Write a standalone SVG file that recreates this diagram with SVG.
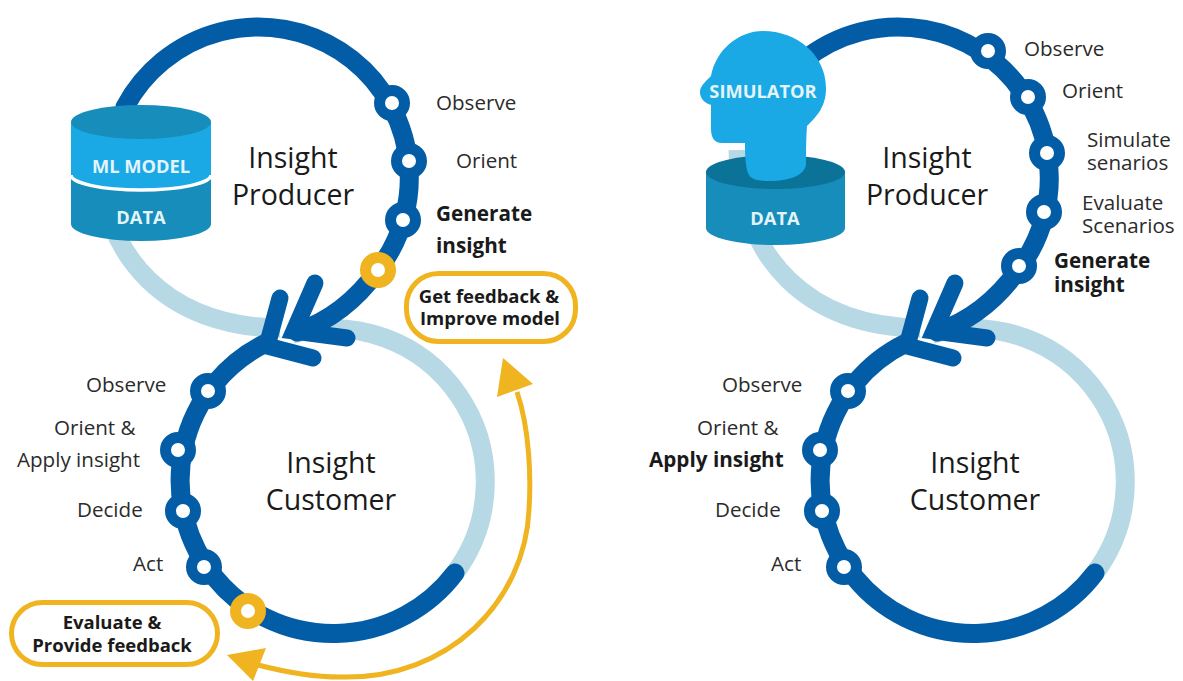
<svg xmlns="http://www.w3.org/2000/svg" width="1183" height="681" viewBox="0 0 1183 681">
<style>
text{font-family:"Open Sans","Noto Sans","Liberation Sans",sans-serif;fill:#2b2b2b;font-size:20.600px}
.t{font-size:28.500px;fill:#1a1a1a;text-anchor:middle}
.b{font-weight:700;font-size:20.700px;fill:#1a1a1a}
.w{font-weight:700;fill:#e4f4fb;text-anchor:middle;font-size:18.300px}
.e{font-weight:700;font-size:18.500px;fill:#1a1a1a;text-anchor:middle}
.blue{fill:none;stroke:#035da6;stroke-width:19;stroke-linecap:round}
.barb{fill:none;stroke:#035da6;stroke-width:17;stroke-linecap:round;stroke-linejoin:miter}
.light{fill:none;stroke:#b7d8e5;stroke-width:19}
.n{fill:#fff;stroke:#035da6;stroke-width:11}
.g{fill:#fff;stroke:#efb41f;stroke-width:11}
.box{fill:#fff;stroke:#efb41f;stroke-width:5}
.gl{fill:none;stroke:#efb41f;stroke-width:5}
.ga{fill:#efb41f}
.c1{fill:#168dba}.c2{fill:#1aa9e4}.c3{fill:#0b7398}
</style>
<defs>
<g id="loop">
<path class="light" d="M98 150C100 260 170 327 280 328"/>
<path class="light" d="M292 334A153 153 0 0 1 455 573"/>
<path class="blue" d="M125 107A151 151 0 1 1 378 270Q345 316 297 332"/>
<path class="barb" d="M315 283L294 331L347 338"/>
<path class="barb" d="M280 298L267 346L313 358"/>
<path class="blue" d="M266 343A153 153 0 1 0 455 573"/>
</g>
</defs>
<g id="connectors">
<use href="#loop"/>
<use href="#loop" x="640"/>
<path class="gl" d="M517 392C530 430 531 480 529 510C525 600 450 680 340 677C310 677 285 672 258 665"/>
<polygon class="ga" points="503,358 533,384 497,397"/>
<polygon class="ga" points="227,655 266,648 253,681"/>
</g>
<g id="ml-cylinder">
<path class="c1" d="M71 122V224A70 17 0 0 0 211 224V122Z"/>
<path class="c2" d="M71 122V175A70 15 0 0 0 211 175V122Z"/>
<path d="M71 175A70 15 0 0 0 211 175" fill="none" stroke="#fff" stroke-width="3.500"/>
<ellipse class="c1" cx="141" cy="122" rx="70" ry="17"/>
<text class="w" x="141" y="173">ML MODEL</text>
<text class="w" x="141" y="224">DATA</text>
</g>
<g id="simulator">
<path class="c1" d="M706 172V228A69.500 17 0 0 0 845 228V172Z"/>
<ellipse class="c3" cx="775.500" cy="172" rx="69.500" ry="17"/>
<path class="c2" d="M763 31C797 31 826 55 826 88C826 107 817 116 807 126C806 140 806 155 806 165C804 176 788 181 770 181C755 181 749 179 747 170C745 160 745 150 745 143H722C713 143 711 136 711 128V105C704 103 700 98 700 92C700 86 706 81 711 76C716 50 738 31 763 31Z"/>
<text class="w" x="763" y="98">SIMULATOR</text>
<text class="w" x="775" y="225">DATA</text>
</g>
<g id="label-insight-producer-1"><text class="t" x="293" y="168">Insight</text><text class="t" x="293" y="205">Producer</text></g>
<g id="label-insight-customer-1"><text class="t" x="331" y="473">Insight</text><text class="t" x="331" y="510">Customer</text></g>
<g id="label-insight-producer-2"><text class="t" x="927" y="168">Insight</text><text class="t" x="927" y="205">Producer</text></g>
<g id="label-insight-customer-2"><text class="t" x="975" y="473">Insight</text><text class="t" x="975" y="510">Customer</text></g>
<g id="p1-observe"><circle class="n" cx="392" cy="103" r="12.500"/><text x="436" y="110">Observe</text></g>
<g id="p1-orient"><circle class="n" cx="409" cy="161" r="12.500"/><text x="456" y="168">Orient</text></g>
<g id="p1-generate"><circle class="n" cx="403" cy="220" r="12.500"/><text class="b" x="436" y="221">Generate</text><text class="b" x="436" y="253">insight</text></g>
<g id="p1-feedback"><circle class="g" cx="378" cy="270" r="12.500"/></g>
<g id="box-improve"><rect class="box" x="406.500" y="273.500" width="169" height="68" rx="32"/><text class="e" x="489" y="303">Get feedback &amp;</text><text class="e" x="490" y="325">Improve model</text></g>
<g id="c1-observe"><circle class="n" cx="208" cy="391" r="12.500"/><text x="86" y="392">Observe</text></g>
<g id="c1-orient"><circle class="n" cx="178" cy="450" r="12.500"/><text x="54" y="435">Orient &amp;</text><text x="17" y="467">Apply insight</text></g>
<g id="c1-decide"><circle class="n" cx="183" cy="511" r="12.500"/><text x="77" y="517">Decide</text></g>
<g id="c1-act"><circle class="n" cx="204" cy="567" r="12.500"/><text x="133" y="571">Act</text></g>
<g id="c1-evaluate"><circle class="g" cx="248" cy="611" r="12.500"/></g>
<g id="box-evaluate"><rect class="box" x="11.500" y="602.500" width="206" height="62" rx="31"/><text class="e" x="112" y="629">Evaluate &amp;</text><text class="e" x="112" y="652">Provide feedback</text></g>
<g id="p2-observe"><circle class="n" cx="988" cy="51" r="12.500"/><text x="1024" y="56">Observe</text></g>
<g id="p2-orient"><circle class="n" cx="1028" cy="97" r="12.500"/><text x="1062" y="98">Orient</text></g>
<g id="p2-simulate"><circle class="n" cx="1047" cy="153" r="12.500"/><text x="1087" y="147">Simulate</text><text x="1087" y="170">senarios</text></g>
<g id="p2-evaluate"><circle class="n" cx="1044" cy="212" r="12.500"/><text x="1082" y="210">Evaluate</text><text x="1082" y="233">Scenarios</text></g>
<g id="p2-generate"><circle class="n" cx="1019" cy="266" r="12.500"/><text class="b" x="1054" y="268">Generate</text><text class="b" x="1054" y="292">insight</text></g>
<g id="c2-observe"><circle class="n" cx="848" cy="391" r="12.500"/><text x="722" y="392">Observe</text></g>
<g id="c2-orient"><circle class="n" cx="820" cy="450" r="12.500"/><text x="697" y="435">Orient &amp;</text><text class="b" x="649" y="467">Apply insight</text></g>
<g id="c2-decide"><circle class="n" cx="822" cy="511" r="12.500"/><text x="715" y="517">Decide</text></g>
<g id="c2-act"><circle class="n" cx="844" cy="567" r="12.500"/><text x="771" y="571">Act</text></g>
</svg>
